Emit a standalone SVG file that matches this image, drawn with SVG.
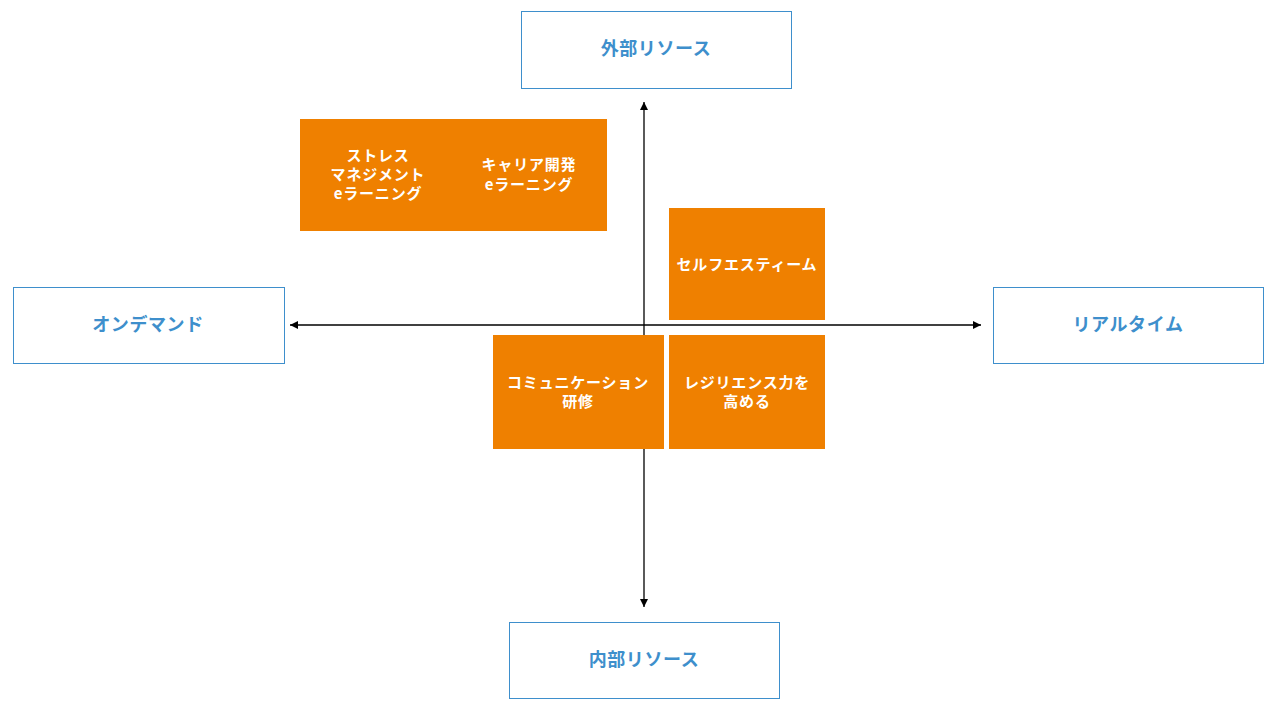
<svg xmlns="http://www.w3.org/2000/svg" width="1280" height="720" viewBox="0 0 1280 720">
<style>
.axis{fill:none;stroke:#000;stroke-width:1.3}
.lbl rect{fill:#fff;stroke:#3E8FCC;stroke-width:1}
.lbl text{fill:#3E8FCC;font-family:"Noto Sans CJK JP","Noto Sans",sans-serif;font-weight:bold;font-size:18px;text-anchor:middle;dominant-baseline:central;letter-spacing:0.6px}
.item rect{fill:#EF8000}
.item text{fill:#fff;font-family:"Noto Sans CJK JP","Noto Sans",sans-serif;font-weight:bold;font-size:15px;text-anchor:middle;dominant-baseline:central;letter-spacing:0.8px}
</style>
<defs>
<marker id="ah" viewBox="0 0 10 10" refX="10" refY="5" markerWidth="8" markerHeight="8" markerUnits="userSpaceOnUse" orient="auto">
<path d="M0,0 L10,5 L0,10 Z" fill="#000"/>
</marker>
</defs>
<g id="connectors">
<line class="axis" x1="644" y1="325" x2="644" y2="102" marker-end="url(#ah)"/>
<line class="axis" x1="644" y1="325" x2="644" y2="607" marker-end="url(#ah)"/>
<line class="axis" x1="644" y1="325" x2="290" y2="325" marker-end="url(#ah)"/>
<line class="axis" x1="644" y1="325" x2="981" y2="325" marker-end="url(#ah)"/>
</g>
<g id="external" class="lbl"><rect x="521.5" y="11.5" width="270" height="77"/><text x="656" y="47">外部リソース</text></g>
<g id="ondemand" class="lbl"><rect x="13.5" y="287.5" width="271" height="76"/><text x="148" y="323">オンデマンド</text></g>
<g id="realtime" class="lbl"><rect x="993.5" y="287.5" width="270" height="76"/><text x="1128" y="323">リアルタイム</text></g>
<g id="internal" class="lbl"><rect x="509.5" y="622.5" width="270" height="76"/><text x="644" y="658">内部リソース</text></g>
<g id="elearning" class="item"><rect x="300" y="119" width="307" height="112"/>
<text x="378" y="154">ストレス</text><text x="378" y="173">マネジメント</text><text x="378" y="192">eラーニング</text>
<text x="529" y="163">キャリア開発</text><text x="529" y="183">eラーニング</text></g>
<g id="selfesteem" class="item"><rect x="669" y="208" width="156" height="112"/><text x="747" y="263">セルフエスティーム</text></g>
<g id="communication" class="item"><rect x="493" y="335" width="171" height="114"/><text x="578" y="381">コミュニケーション</text><text x="578" y="400">研修</text></g>
<g id="resilience" class="item"><rect x="669" y="335" width="156" height="114"/><text x="747" y="381">レジリエンス力を</text><text x="747" y="400">高める</text></g>
</svg>
